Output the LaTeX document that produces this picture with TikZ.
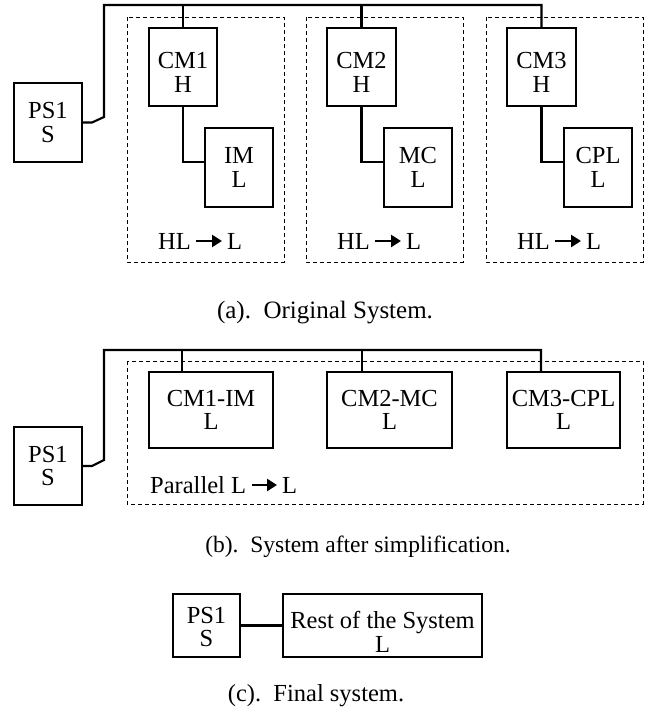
\documentclass[tikz,border=0pt]{standalone}
\usepackage{fontspec}
\setmainfont{Liberation Serif}
\usetikzlibrary{arrows.meta}
\newcommand\mydown[1]{\rule{0pt}{#1}}
\begin{document}
\begin{tikzpicture}[x=1pt,y=-1pt,
  txt/.style={font=\fontsize{24.5}{23.5}\selectfont, inner sep=0pt},
  blk/.style={txt, draw, line width=2.2pt, align=center},
  conn/.style={line width=2.1pt, line join=miter},
  grp/.style={draw, dash pattern=on 4pt off 3pt, line width=0.9pt},
  harr/.style={line width=2.6pt, -{Triangle[length=10pt,width=12pt]}},
  captxt/.style={inner sep=0pt, anchor=base}]
\useasboundingbox (0,0) rectangle (650,718);

% ---------- (a) ----------
\draw[grp] (127,17) rectangle (284,262);
\draw[grp] (306,17) rectangle (463,262);
\draw[grp] (486,17) rectangle (643,262);

\node[blk, minimum width=68pt, minimum height=79pt] (ps1a) at (48,122.5) {PS1\\S};
\node[blk, minimum width=68pt, minimum height=78pt] (cm1) at (183,67) {\mydown{27pt}CM1\\H};
\node[blk, minimum width=68pt, minimum height=79pt] (im) at (239,167.5) {IM\\L};
\node[blk, minimum width=69pt, minimum height=78pt] (cm2) at (361.5,67) {\mydown{27pt}CM2\\H};
\node[blk, minimum width=68pt, minimum height=79pt] (mc) at (418,167.5) {MC\\L};
\node[blk, minimum width=69pt, minimum height=78pt] (cm3) at (541.5,67) {\mydown{27pt}CM3\\H};
\node[blk, minimum width=68pt, minimum height=79pt] (cpl) at (598,167.5) {CPL\\L};

\coordinate (bendA) at (92,122.5);
\coordinate (busA) at (104,117);
\coordinate (topA) at (104,5);
\draw[conn] (ps1a.east) -- (bendA) -- (busA) -- (topA) -| (cm3.north);
\draw[conn] (cm1.north) -- (cm1.north |- topA);
\draw[conn] (cm2.north) -- (cm2.north |- topA);
\draw[conn] (cm1.south) |- ([yshift=5.5pt]im.west);
\draw[conn] (cm2.south) |- ([yshift=5.5pt]mc.west);
\draw[conn] (cm3.south) |- ([yshift=5.5pt]cpl.west);

\node[txt, anchor=base west] (hl1) at (158,249) {HL};
\node[txt, anchor=base west] (l1) at (227,249) {L};
\draw[harr] (196,241) -- (222,241);
\node[txt, anchor=base west] (hl2) at (337,249) {HL};
\node[txt, anchor=base west] (l2) at (406,249) {L};
\draw[harr] (375,241) -- (401,241);
\node[txt, anchor=base west] (hl3) at (517,249) {HL};
\node[txt, anchor=base west] (l3) at (586,249) {L};
\draw[harr] (555,241) -- (581,241);

\node[captxt, font=\fontsize{25}{25}\selectfont] (capa) at (325,318) {(a).\ \ Original System.};

% ---------- (b) ----------
\draw[grp] (127,361) rectangle (643,504);
\node[blk, minimum width=68pt, minimum height=78pt] (ps1b) at (48,466) {PS1\\S};
\node[blk, minimum width=124pt, minimum height=76pt] (cmim) at (211,410) {CM1-IM\\L};
\node[blk, minimum width=125pt, minimum height=76pt] (cmmc) at (389.5,410) {CM2-MC\\L};
\node[blk, minimum width=113pt, minimum height=76pt] (cmcpl) at (563.5,410) {CM3-CPL\\L};

\coordinate (bendB) at (92,466);
\coordinate (busB) at (104,460);
\coordinate (topB) at (104,350);
\draw[conn] (ps1b.east) -- (bendB) -- (busB) -- (topB) -| (cmcpl.north -| 541,0);
\draw[conn] (cmim.north -| 182,0) -- (182,350);
\draw[conn] (cmmc.north -| 362,0) -- (362,350);

\node[txt, anchor=base west] (par) at (150,493) {Parallel L};
\node[txt, anchor=base west] (lp) at (282,493) {L};
\draw[harr] (252,485) -- (277,485);

\node[captxt, font=\fontsize{23.5}{23.5}\selectfont] (capb) at (358,552) {(b).\ \ System after simplification.};

% ---------- (c) ----------
\node[blk, minimum width=67pt, minimum height=63pt] (ps1c) at (206.5,625.5) {\mydown{19pt}PS1\\S};
\node[blk, minimum width=199pt, minimum height=63pt] (rest) at (382.5,625.5) {\mydown{30pt}Rest of the System\\L};
\draw[conn] (ps1c.east) -- (rest.west);

\node[captxt, font=\fontsize{24.5}{24.5}\selectfont] (capc) at (316,701) {(c).\ \ Final system.};
\end{tikzpicture}
\end{document}
